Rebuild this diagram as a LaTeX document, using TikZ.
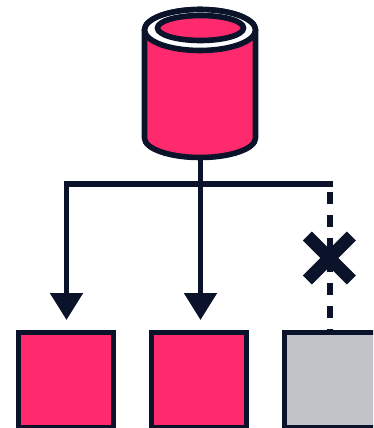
\documentclass[tikz,border=0pt]{standalone}
\usepackage{tikz}
\usetikzlibrary{arrows.meta,shapes.misc}
\definecolor{navy}{HTML}{0B132B}
\definecolor{rosepink}{HTML}{FF2A6D}
\definecolor{lightgrey}{HTML}{C2C3C8}
\tikzset{
  wire/.style={draw=navy,line width=5.2pt},
  shard/.style={draw=navy,line width=5.2pt,minimum size=95pt,inner sep=0pt,outer sep=0pt},
  head/.style={-{Triangle[length=27pt,width=32pt,fill=navy]}}
}
\begin{document}
\begin{tikzpicture}[x=1pt,y=-1pt]
\useasboundingbox (0,0) rectangle (373,428);
\clip (0,0) rectangle (373,428);
% database
\draw[navy,fill=rosepink,line width=5.6pt,line join=round] (144.5,30) -- (144.5,138) arc [start angle=180,end angle=0,x radius=55.5,y radius=19.5] -- (255.5,30) arc [start angle=0,end angle=-180,x radius=55.5,y radius=20.5] -- cycle;
\draw[navy,fill=white,line width=5.6pt] (200,30) ellipse [x radius=55.5,y radius=20.5];
\draw[navy,fill=rosepink,line width=5.6pt] (200.5,28) ellipse [x radius=43,y radius=12.5];
\coordinate (db) at (200.5,156);
% shards
\node[shard,fill=rosepink] (s1) at (66,380) {};
\node[shard,fill=rosepink] (s2) at (199,380) {};
\node[shard,fill=lightgrey] (s3) at (332,380) {};
\coordinate (left) at (66.5,184);
\coordinate (right) at (332.5,184);
\coordinate (a1) at (66.5,320);
\coordinate (a2) at (200.5,320);
\coordinate (top3) at (330,184);
% connectors
\draw[wire,head] (right) -- (left) -- (a1);
\draw[wire,head] (db) -- (a2);
\draw[wire,line width=5.4pt,dash pattern=on 12pt off 10.8pt,dash phase=14.8pt] (top3) -- (s3.north -| top3);
\node[cross out,draw=navy,line width=12.7pt,minimum size=44pt,inner sep=0pt,outer sep=0pt] (stop) at (329.3,258) {};
\end{tikzpicture}
\end{document}
